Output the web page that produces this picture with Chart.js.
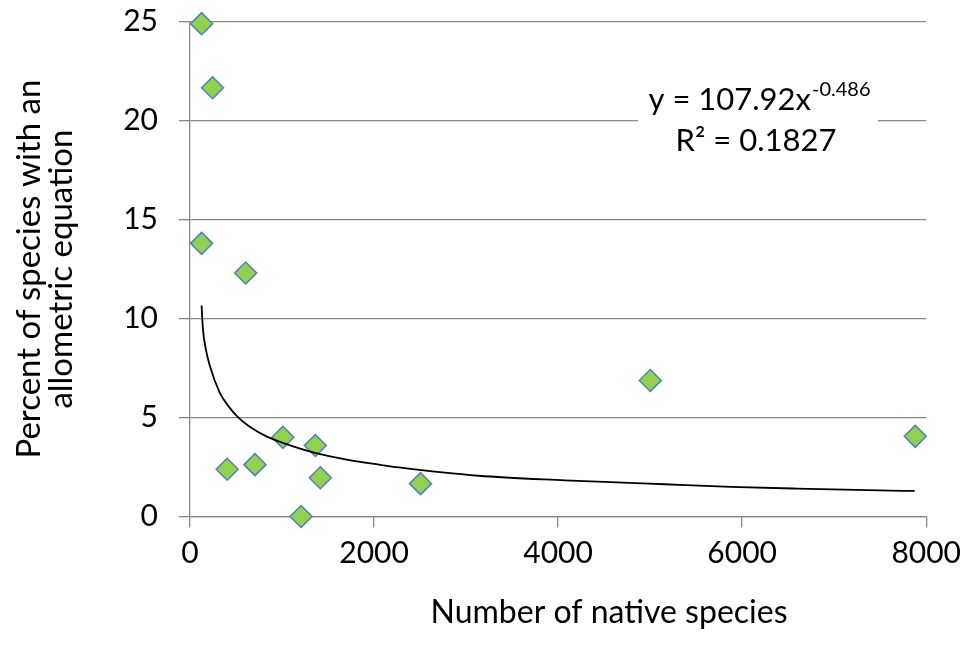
<!DOCTYPE html>
<html>
<head>
<meta charset="utf-8">
<script src="https://cdn.jsdelivr.net/npm/chart.js@4"></script>
<style>
  html, body { margin: 0; padding: 0; background: #fff; }
  #wrap { width: 969px; height: 657px; }
</style>
</head>
<body>
<div id="wrap"><canvas id="chart" width="969" height="657"></canvas></div>
<script>
// Values
const speciesX = [126, 245, 126, 605, 1009, 404, 706, 1362, 1416, 1207, 2505, 5002, 7881];
const percentY = [24.9, 21.66, 13.8, 12.3, 4.0, 2.39, 2.62, 3.59, 1.96, 0, 1.66, 6.87, 4.05];

// Power trendline
const trendX = [126, 140, 170, 216, 324, 430, 512, 649, 829, 1009, 1369, 1730, 2054, 2270, 3135, 4072, 4432, 5153, 5874, 6595, 7495, 7875];
const trendY = [10.66, 9.5, 8.5, 7.6, 6.25, 5.5, 5.06, 4.53, 4.05, 3.72, 3.2, 2.85, 2.62, 2.48, 2.06, 1.83, 1.76, 1.63, 1.5, 1.41, 1.32, 1.29];

const xTicks = [0, 2000, 4000, 6000, 8000];
const yTicks = [0, 5, 10, 15, 20, 25];

const xTitle = 'Number of native species';
const yTitle = ['Percent of species with an', 'allometric equation'];
const eqLine1 = 'y = 107.92x';
const eqExp = '-0.486';
const eqLine2 = 'R\u00B2 = 0.1827';

const FONT = 'Lato';
const GRID = '#878787';

const toXY = (xs, ys) => xs.map((x, i) => ({ x, y: ys[i] }));

// White label box with the trendline equation, plus the x axis title
// (Excel placed that one right of the axis centre)
const annotations = {
  id: 'annotations',
  afterDraw(chart) {
    const ctx = chart.ctx;
    ctx.save();
    ctx.fillStyle = '#fff';
    ctx.fillRect(638, 72, 240, 92);
    ctx.fillStyle = '#000';
    ctx.textBaseline = 'alphabetic';
    ctx.font = `31px ${FONT}`;
    const w1 = ctx.measureText(eqLine1).width;
    ctx.font = `20px ${FONT}`;
    const wExp = ctx.measureText(eqExp).width;
    const x = 759 - (w1 + wExp) / 2;
    ctx.font = `31px ${FONT}`;
    ctx.textAlign = 'left';
    ctx.fillText(eqLine1, x, 110);
    ctx.font = `20px ${FONT}`;
    ctx.fillText(eqExp, x + w1 + 1, 96);
    ctx.font = `31px ${FONT}`;
    ctx.textAlign = 'center';
    ctx.fillText(eqLine2, 756, 151);

    ctx.font = `32px ${FONT}`;
    ctx.textBaseline = 'middle';
    ctx.fillText(xTitle, 609, 613);
    ctx.restore();
  },
};

new Chart(document.getElementById('chart'), {
  type: 'scatter',
  data: {
    datasets: [
      {
        label: 'Trend',
        type: 'line',
        data: toXY(trendX, trendY),
        borderColor: '#000',
        borderWidth: 1.8,
        pointRadius: 0,
        fill: false,
        cubicInterpolationMode: 'monotone',
        order: 1,
      },
      {
        label: 'Percent',
        data: toXY(speciesX, percentY),
        pointStyle: 'rectRot',
        pointRadius: 11,
        pointHoverRadius: 11,
        backgroundColor: '#92D050',
        borderColor: '#4F81BD',
        borderWidth: 1.5,
        clip: false,
        order: 2,
      },
    ],
  },
  options: {
    responsive: false,
    animation: false,
    layout: { padding: { top: 21.7, right: 39, left: 0, bottom: 0 } },
    plugins: { legend: { display: false }, tooltip: { enabled: false } },
    scales: {
      x: {
        type: 'linear',
        min: 0,
        max: 8000,
        afterBuildTicks: (s) => { s.ticks = xTicks.map((v) => ({ value: v })); },
        afterFit: (s) => { s.height = 140.5; },
        grid: { drawOnChartArea: false, drawTicks: true, tickLength: 11, color: GRID, lineWidth: 1.3 },
        border: { display: true, color: GRID, width: 1.3 },
        ticks: {
          color: '#000',
          padding: 8,
          font: { family: FONT, size: 30 },
          maxRotation: 0,
          callback: (v) => String(v),
        },
        title: { display: false },
      },
      y: {
        min: 0,
        max: 25,
        afterBuildTicks: (s) => { s.ticks = yTicks.map((v) => ({ value: v })); },
        afterFit: (s) => {
          s.width = 190;
          s.paddingTop = 0;
          s.paddingBottom = 0;
        },
        grid: { drawTicks: true, tickLength: 11, color: GRID, lineWidth: 1.3 },
        border: { display: true, color: GRID, width: 1.3 },
        ticks: { color: '#000', padding: 21, font: { family: FONT, size: 30 } },
        title: {
          display: true,
          text: yTitle,
          color: '#000',
          font: { family: FONT, size: 33, lineHeight: 0.98 },
          padding: { top: 13, bottom: 0 },
        },
      },
    },
  },
  plugins: [annotations],
});
</script>
</body>
</html>
